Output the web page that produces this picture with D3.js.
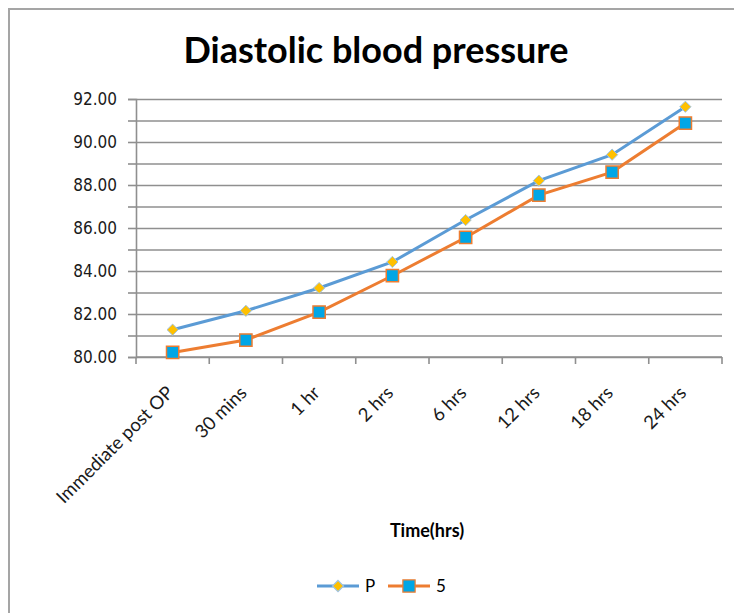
<!DOCTYPE html>
<html>
<head>
<meta charset="utf-8">
<script src="https://cdn.jsdelivr.net/npm/d3@7"></script>
<style>
  body { margin: 0; background: #fff; }
  svg { display: block; }
</style>
</head>
<body>
<svg id="chart" width="734" height="613"></svg>
<script>
// values
const categories = ['Immediate post OP', '30 mins', '1 hr', '2 hrs', '6 hrs', '12 hrs', '18 hrs', '24 hrs']
const series_names = ['P', '5']
const p_values = [81.27, 82.15, 83.21, 84.42, 86.37, 88.20, 89.41, 91.64]
const s_values = [80.21, 80.79, 82.09, 83.78, 85.56, 87.53, 88.60, 90.88]
const y_ticks = [80, 82, 84, 86, 88, 90, 92]
const y_grid = d3.range(80, 93, 1)

const svg = d3.select('#chart')
const plot_l = 136, plot_r = 722, plot_t = 99, plot_b = 357

// outer chart frame
svg.append('rect')
  .attr('x', 9).attr('y', 9).attr('width', 900).attr('height', 900)
  .attr('fill', 'none').attr('stroke', '#a5a5a5').attr('stroke-width', 2)

svg.append('text')
  .attr('x', 376).attr('y', 63)
  .attr('text-anchor', 'middle')
  .attr('font-family', 'Lato, "Open Sans", sans-serif')
  .attr('font-weight', 'bold')
  .attr('font-size', 36)
  .attr('fill', '#000')
  .text('Diastolic blood pressure')

const x = d3.scaleBand().domain(categories).range([plot_l, plot_r])
const y = d3.scaleLinear().domain([80, 92]).range([plot_b, plot_t])

// gridlines at every unit, labels only on even values
svg.append('g')
  .attr('transform', `translate(${plot_l},0)`)
  .call(d3.axisLeft(y).tickValues(y_grid).tickSize(8).tickFormat(''))
  .call(g => g.selectAll('.tick line').clone()
    .attr('x2', plot_r - plot_l))
  .call(g => g.selectAll('line, path').attr('stroke', '#8f8f8f').attr('stroke-width', 1.6))

svg.append('g')
  .attr('transform', `translate(${plot_l},0)`)
  .call(d3.axisLeft(y).tickValues(y_ticks).tickSize(0).tickPadding(19).tickFormat(d3.format('.2f')))
  .call(g => g.select('.domain').remove())
  .call(g => g.selectAll('text')
    .attr('font-family', '"DejaVu Sans Condensed", "DejaVu Sans", sans-serif')
    .attr('font-stretch', 'condensed')
    .attr('font-size', 17)
    .attr('fill', '#1a1a1a'))

// x axis with ticks between categories
const x_edges = categories.map(c => x(c)).concat([plot_r])
const xg = svg.append('g')
xg.append('line')
  .attr('x1', plot_l).attr('x2', plot_r).attr('y1', plot_b).attr('y2', plot_b)
  .attr('stroke', '#8f8f8f').attr('stroke-width', 1.6)
xg.selectAll('line.tk').data(x_edges).join('line')
  .attr('class', 'tk')
  .attr('x1', d => d).attr('x2', d => d)
  .attr('y1', plot_b).attr('y2', plot_b + 7)
  .attr('stroke', '#8f8f8f').attr('stroke-width', 1.6)
xg.selectAll('text').data(categories).join('text')
  .attr('transform', d => `translate(${x(d) + x.bandwidth() / 2 + 2},${plot_b + 37}) rotate(-45)`)
  .attr('text-anchor', 'end')
  .attr('font-family', 'Lato, "Open Sans", sans-serif')
  .attr('font-size', 18.5)
  .attr('fill', '#1a1a1a')
  .text(d => d)

svg.append('text')
  .attr('x', 427).attr('y', 537)
  .attr('text-anchor', 'middle')
  .attr('font-family', 'Lato, "Open Sans", sans-serif')
  .attr('font-weight', 'bold')
  .attr('font-size', 18)
  .attr('fill', '#000')
  .text('Time(hrs)')

const cx = d => x(d) + x.bandwidth() / 2
const line = d3.line().x(d => cx(d.cat)).y(d => y(d.v))
const p_data = categories.map((c, i) => ({ cat: c, v: p_values[i] }))
const s_data = categories.map((c, i) => ({ cat: c, v: s_values[i] }))

const p_col = '#5b9bd5', s_col = '#ed7d31'
const diamond = d3.symbol().type(d3.symbolDiamond2).size(80)
const square = d3.symbol().type(d3.symbolSquare).size(150)

svg.append('path').datum(p_data)
  .attr('d', line).attr('fill', 'none')
  .attr('stroke', p_col).attr('stroke-width', 3)
svg.append('path').datum(s_data)
  .attr('d', line).attr('fill', 'none')
  .attr('stroke', s_col).attr('stroke-width', 3)

svg.selectAll('path.pm').data(p_data).join('path')
  .attr('class', 'pm')
  .attr('transform', d => `translate(${cx(d.cat)},${y(d.v)})`)
  .attr('d', diamond)
  .attr('fill', '#ffc000').attr('stroke', '#9dc3e6').attr('stroke-width', 1)
svg.selectAll('path.sm').data(s_data).join('path')
  .attr('class', 'sm')
  .attr('transform', d => `translate(${cx(d.cat)},${y(d.v)})`)
  .attr('d', square)
  .attr('fill', '#00a6e6').attr('stroke', s_col).attr('stroke-width', 1.5)

// legend
const legend = [
  { name: series_names[0], x0: 317, col: p_col, sym: diamond, fill: '#ffc000', edge: '#9dc3e6' },
  { name: series_names[1], x0: 388, col: s_col, sym: square, fill: '#00a6e6', edge: s_col }
]
const lg = svg.selectAll('g.lg').data(legend).join('g')
  .attr('class', 'lg')
  .attr('transform', d => `translate(${d.x0},586)`)
lg.append('line')
  .attr('x1', 0).attr('x2', 42)
  .attr('stroke', d => d.col).attr('stroke-width', 3)
lg.append('path')
  .attr('transform', 'translate(21,0)')
  .attr('d', d => d.sym())
  .attr('fill', d => d.fill).attr('stroke', d => d.edge).attr('stroke-width', 1.2)
lg.append('text')
  .attr('x', 48).attr('y', 6)
  .attr('font-family', 'Lato, "Open Sans", sans-serif')
  .attr('font-size', 17)
  .attr('fill', '#000')
  .text(d => d.name)
</script>
</body>
</html>
